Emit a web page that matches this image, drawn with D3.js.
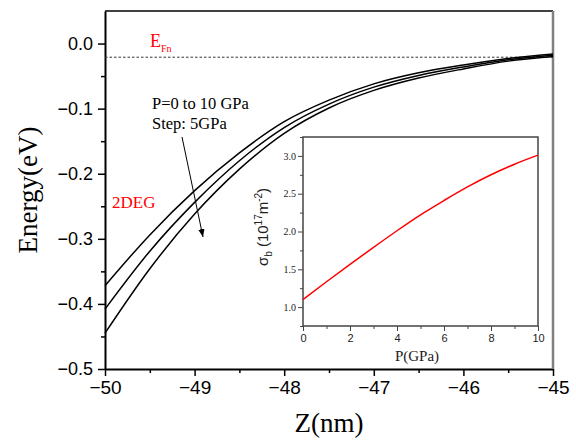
<!DOCTYPE html>
<html>
<head>
<meta charset="utf-8">
<script src="https://d3js.org/d3.v7.min.js"></script>
<style>
  body { margin: 0; background: #fff; }
  svg { display: block; }
</style>
</head>
<body>
<div id="container"></div>
<script>
const width = 576;
const height = 442;

// Main plot: band edge energy vs depth, one curve per pressure
const zValues = [-50, -49.5, -49, -48.5, -48, -47.5, -47, -46.5, -46, -45.5, -45];
const energyP0 = [-0.372, -0.294, -0.226, -0.168, -0.120, -0.087, -0.062, -0.045, -0.033, -0.023, -0.016];
const energyP5 = [-0.408, -0.319, -0.244, -0.180, -0.129, -0.093, -0.067, -0.049, -0.036, -0.025, -0.018];
const energyP10 = [-0.445, -0.346, -0.262, -0.193, -0.138, -0.099, -0.072, -0.053, -0.039, -0.027, -0.020];
const fermiLevel = -0.021;

const xTicks = [-50, -49, -48, -47, -46, -45];
const yTicks = [0.0, -0.1, -0.2, -0.3, -0.4, -0.5];

// Inset: sheet density vs pressure
const pressure = [0, 1, 2, 3, 4, 5, 6, 7, 8, 9, 10];
const sigmaB = [1.10, 1.335, 1.565, 1.79, 2.01, 2.22, 2.41, 2.59, 2.75, 2.89, 3.01];
const insetXTicks = [0, 2, 4, 6, 8, 10];
const insetYTicks = [1.0, 1.5, 2.0, 2.5, 3.0];

const svg = d3
  .select("#container")
  .append("svg")
  .attr("width", width)
  .attr("height", height);

const main = { left: 105, right: 553, top: 11, bottom: 369 };

const xScale = d3.scaleLinear().domain([-50, -45]).range([main.left, main.right]);
const yScale = d3.scaleLinear().domain([-0.5, 0.05]).range([main.bottom, main.top]);

const sans = "Arial, 'Liberation Sans', sans-serif";
const serif = "'Times New Roman', 'Liberation Serif', serif";

// minor ticks
const xMinor = d3.range(-49.5, -45, 1);
const yMinor = d3.range(-0.45, 0.05, 0.1);

const xAxis = d3.axisBottom(xScale).tickValues(xTicks).tickFormat(d3.format("d")).tickSize(7).tickSizeOuter(0).tickPadding(5);
const yAxis = d3.axisLeft(yScale).tickValues(yTicks).tickFormat(d3.format(".1f")).tickSize(7).tickSizeOuter(0).tickPadding(5);

svg.append("g")
  .attr("transform", `translate(0, ${main.bottom})`)
  .call(d3.axisBottom(xScale).tickValues(xMinor).tickFormat("").tickSize(4).tickSizeOuter(0))
  .call((g) => g.select(".domain").remove())
  .selectAll("line").attr("stroke-width", 1.5);

svg.append("g")
  .attr("transform", `translate(${main.left}, 0)`)
  .call(d3.axisLeft(yScale).tickValues(yMinor).tickFormat("").tickSize(4).tickSizeOuter(0))
  .call((g) => g.select(".domain").remove())
  .selectAll("line").attr("stroke-width", 1.5);

const gx = svg.append("g").attr("transform", `translate(0, ${main.bottom})`).call(xAxis);
gx.select(".domain").attr("stroke-width", 2);
gx.selectAll(".tick line").attr("stroke-width", 1.5);
gx.selectAll("text").attr("font-family", sans).attr("font-size", 19).attr("fill", "#000");

const gy = svg.append("g").attr("transform", `translate(${main.left}, 0)`).call(yAxis);
gy.select(".domain").attr("stroke-width", 2);
gy.selectAll(".tick line").attr("stroke-width", 1.5);
gy.selectAll("text").attr("font-family", sans).attr("font-size", 18).attr("fill", "#000");

// top and right frame
svg.append("line")
  .attr("x1", main.left).attr("x2", main.right)
  .attr("y1", main.top).attr("y2", main.top)
  .attr("stroke", "#000").attr("stroke-width", 1.5);
svg.append("line")
  .attr("x1", main.right).attr("x2", main.right)
  .attr("y1", main.top).attr("y2", main.bottom)
  .attr("stroke", "#808080").attr("stroke-width", 2.5);

// Fermi level
svg.append("line")
  .attr("x1", main.left).attr("x2", main.right)
  .attr("y1", yScale(fermiLevel)).attr("y2", yScale(fermiLevel))
  .attr("stroke", "#333").attr("stroke-width", 1)
  .attr("stroke-dasharray", "2.5,2");

const line = d3.line()
  .x((d) => xScale(d[0]))
  .y((d) => yScale(d[1]))
  .curve(d3.curveMonotoneX);

[energyP0, energyP5, energyP10].forEach((series) => {
  svg.append("path")
    .datum(zValues.map((z, i) => [z, series[i]]))
    .attr("d", line)
    .attr("fill", "none")
    .attr("stroke", "#000")
    .attr("stroke-width", 1.5);
});

// labels
svg.append("text")
  .attr("x", 150).attr("y", 47)
  .attr("font-family", serif).attr("font-size", 18).attr("fill", "#ff0000")
  .text("E")
  .append("tspan")
  .attr("dy", 5).attr("font-size", 10)
  .text("Fn");

svg.append("text")
  .attr("x", 112).attr("y", 208)
  .attr("font-family", serif).attr("font-size", 17).attr("fill", "#ff0000")
  .text("2DEG");

svg.append("text")
  .attr("x", 152).attr("y", 109)
  .attr("font-family", serif).attr("font-size", 16.5).attr("fill", "#000")
  .text("P=0 to 10 GPa");
svg.append("text")
  .attr("x", 152).attr("y", 129)
  .attr("font-family", serif).attr("font-size", 16.5).attr("fill", "#000")
  .text("Step: 5GPa");

svg.append("defs").append("marker")
  .attr("id", "arrow")
  .attr("viewBox", "0 0 10 10")
  .attr("refX", 10).attr("refY", 5)
  .attr("markerWidth", 8).attr("markerHeight", 8)
  .attr("markerUnits", "userSpaceOnUse")
  .attr("orient", "auto")
  .append("path")
  .attr("d", "M0,1 L10,5 L0,9 Z")
  .attr("fill", "#000");

svg.append("line")
  .attr("x1", 182).attr("y1", 137)
  .attr("x2", 203).attr("y2", 237)
  .attr("stroke", "#000").attr("stroke-width", 1)
  .attr("marker-end", "url(#arrow)");

svg.append("text")
  .attr("transform", `translate(37, 190) rotate(-90)`)
  .attr("text-anchor", "middle")
  .attr("font-family", serif).attr("font-size", 27).attr("fill", "#000")
  .text("Energy(eV)");

svg.append("text")
  .attr("x", 329).attr("y", 432)
  .attr("text-anchor", "middle")
  .attr("font-family", serif).attr("font-size", 27).attr("fill", "#000")
  .text("Z(nm)");

// Inset
const inset = { left: 303, right: 538, top: 137, bottom: 326 };
const ixScale = d3.scaleLinear().domain([0, 10]).range([inset.left, inset.right]);
const iyScale = d3.scaleLinear().domain([0.75, 3.25]).range([inset.bottom, inset.top]);

svg.append("rect")
  .attr("x", inset.left).attr("y", inset.top)
  .attr("width", inset.right - inset.left).attr("height", inset.bottom - inset.top)
  .attr("fill", "#fff")
  .attr("stroke", "#444").attr("stroke-width", 1.5);

svg.append("g")
  .attr("transform", `translate(0, ${inset.bottom})`)
  .call(d3.axisBottom(ixScale).tickValues(d3.range(1, 10, 2)).tickFormat("").tickSize(3).tickSizeOuter(0))
  .call((g) => g.select(".domain").remove())
  .selectAll("line").attr("stroke", "#444");
svg.append("g")
  .attr("transform", `translate(${inset.left}, 0)`)
  .call(d3.axisLeft(iyScale).tickValues(d3.range(0.75, 3.3, 0.5)).tickFormat("").tickSize(3).tickSizeOuter(0))
  .call((g) => g.select(".domain").remove())
  .selectAll("line").attr("stroke", "#444");

const igx = svg.append("g")
  .attr("transform", `translate(0, ${inset.bottom})`)
  .call(d3.axisBottom(ixScale).tickValues(insetXTicks).tickFormat(d3.format("d")).tickSize(5).tickSizeOuter(0).tickPadding(3));
igx.select(".domain").remove();
igx.selectAll("line").attr("stroke", "#444");
igx.selectAll("text").attr("font-family", sans).attr("font-size", 11).attr("fill", "#222");

const igy = svg.append("g")
  .attr("transform", `translate(${inset.left}, 0)`)
  .call(d3.axisLeft(iyScale).tickValues(insetYTicks).tickFormat(d3.format(".1f")).tickSize(5).tickSizeOuter(0).tickPadding(2));
igy.select(".domain").remove();
igy.selectAll("line").attr("stroke", "#444");
igy.selectAll("text").attr("font-family", serif).attr("font-size", 10).attr("fill", "#222");

const iline = d3.line()
  .x((d, i) => ixScale(pressure[i]))
  .y((d) => iyScale(d))
  .curve(d3.curveMonotoneX);

svg.append("path")
  .datum(sigmaB)
  .attr("d", iline)
  .attr("fill", "none")
  .attr("stroke", "#ff0000")
  .attr("stroke-width", 1.5);

svg.append("text")
  .attr("x", 417).attr("y", 361)
  .attr("text-anchor", "middle")
  .attr("font-family", serif).attr("font-size", 15).attr("fill", "#222")
  .text("P(GPa)");

const sigmaLabel = svg.append("text")
  .attr("transform", `translate(268, 227) rotate(-90)`)
  .attr("text-anchor", "middle")
  .attr("font-family", sans).attr("font-size", 15).attr("fill", "#222");
sigmaLabel.append("tspan").text("σ");
sigmaLabel.append("tspan").attr("font-size", 10).attr("dy", 4).text("b");
sigmaLabel.append("tspan").attr("dy", -4).text("  (10");
sigmaLabel.append("tspan").attr("font-size", 10).attr("dy", -6).text("17");
sigmaLabel.append("tspan").attr("dy", 6).text("m");
sigmaLabel.append("tspan").attr("font-size", 10).attr("dy", -6).text("-2");
sigmaLabel.append("tspan").attr("dy", 6).text(")");
</script>
</body>
</html>
